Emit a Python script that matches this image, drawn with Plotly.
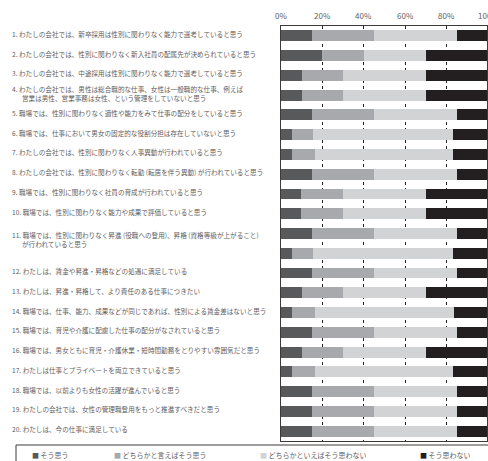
import plotly.graph_objects as go

# ---------------- data ----------------
series_names = ["そう思う", "どちらかと言えばそう思う", "どちらかといえばそう思わない", "そう思わない"]
series_colors = ["#58595b", "#a7a9ac", "#d1d3d4", "#231f20"]

# 21 bars are drawn in the reference (bar rows, top to bottom), values in %
agree =          [15, 20, 10, 10, 15, 5.5, 5.5, 15, 9.5, 9.5, 15, 5.5, 15, 10, 5.5, 15, 10, 5.5, 15, 15, 15]
somewhat_agree = [30, 20, 20, 20, 30, 10, 11, 30, 20.5, 20.5, 30, 10, 30, 20, 11, 30, 20, 11, 30, 30, 30]
somewhat_dis =   [40, 30, 40, 40, 40, 67.5, 66.5, 40, 40, 40, 40, 67.5, 40, 40, 67, 40, 40, 66.5, 40, 40, 40]
disagree =       [15, 30, 30, 30, 15, 17, 17, 15, 30, 30, 15, 17, 15, 30, 16.5, 15, 30, 17, 15, 15, 15]

questions = [
    "1. わたしの会社では、新卒採用は性別に関わりなく能力で選考していると思う",
    "2. わたしの会社では、性別に関わりなく新入社員の配属先が決められていると思う",
    "3. わたしの会社では、中途採用は性別に関わりなく能力で選考していると思う",
    "4. わたしの会社では、男性は総合職的な仕事、女性は一般職的な仕事、例えば\n営業は男性、営業事務は女性、という管理をしていないと思う",
    "5. 職場では、性別に関わりなく適性や能力をみて仕事の配分をしていると思う",
    "6. 職場では、仕事において男女の固定的な役割分担は存在していないと思う",
    "7. わたしの会社では、性別に関わりなく人事異動が行われていると思う",
    "8. わたしの会社では、性別に関わりなく転勤 (転居を伴う異動) が行われていると思う",
    "9. 職場では、性別に関わりなく社員の育成が行われていると思う",
    "10. 職場では、性別に関わりなく能力や成果で評価していると思う",
    "11. 職場では、性別に関わりなく昇進 (役職への登用)、昇格 (資格等級が上がること)\nが行われていると思う",
    "12. わたしは、賃金や昇進・昇格などの処遇に満足している",
    "13. わたしは、昇進・昇格して、より責任のある仕事につきたい",
    "14. 職場では、仕事、能力、成果などが同じであれば、性別による賃金差はないと思う",
    "15. 職場では、育児や介護に配慮した仕事の配分がなされていると思う",
    "16. 職場では、男女ともに育児・介護休業・短時間勤務をとりやすい雰囲気だと思う",
    "17. わたしは仕事とプライベートを両立できていると思う",
    "18. 職場では、以前よりも女性の活躍が進んでいると思う",
    "19. わたしの会社では、女性の管理職登用をもっと推進すべきだと思う",
    "20. わたしは、今の仕事に満足している",
]

tick_values = [0, 20, 40, 60, 80, 100]
tick_labels = ["0%", "20%", "40%", "60%", "80%", "100%"]

# ---------------- layout helpers ----------------
W, H = 488, 461
ML, MR, MT, MB = 281, 1, 26, 20
PW, PH = W - ML - MR, H - MT - MB
XMAX = 99.3

def px_x(px):
    return (px - ML) / PW

def px_y(py):
    return (H - MB - py) / PH

# vertical position (in bar-row units) of each question label
label_pos = [0, 1, 2, 3, 4, 5, 6, 7, 8, 9, 10.4, 12, 13, 14, 15, 16, 17, 18, 19, 20]
LINE = 0.47
TEXT_COLOR = "#5f5d5d"
FONT = "Noto Sans CJK JP"

rows = list(range(len(agree)))
series = [agree, somewhat_agree, somewhat_dis, disagree]

fig = go.Figure()
for name, vals, col in zip(series_names, series, series_colors):
    fig.add_trace(go.Bar(
        x=vals, y=rows, orientation="h", name=name,
        marker=dict(color=col, line=dict(width=0)),
        width=0.55, showlegend=False, hoverinfo="x+name",
    ))

ann = []
for q, yc in zip(questions, label_pos):
    lines = q.split("\n")
    n = len(lines)
    for i, ln in enumerate(lines):
        yy = yc - 0.1 + (i - (n - 1) / 2) * LINE
        ann.append(dict(
            text=ln, xref="paper", yref="y", x=px_x(10 if i == 0 else 20), y=yy,
            xanchor="left", yanchor="middle", showarrow=False,
            font=dict(family=FONT, size=6.6, color=TEXT_COLOR),
        ))

for v, t in zip(tick_values, tick_labels):
    ann.append(dict(
        text=t, xref="paper", yref="paper", x=v / XMAX, y=px_y(15),
        xanchor="center", yanchor="middle", showarrow=False,
        font=dict(family=FONT, size=8, color=TEXT_COLOR),
    ))

legend_x = [30, 112, 258, 418]
for name, col, lx in zip(series_names, series_colors, legend_x):
    ann.append(dict(
        text=f'<span style="color:{col}">■</span> {name}',
        xref="paper", yref="paper", x=px_x(lx), y=px_y(455),
        xanchor="left", yanchor="middle", showarrow=False,
        font=dict(family=FONT, size=7, color=TEXT_COLOR),
    ))

fig.update_layout(
    width=W, height=H,
    margin=dict(l=ML, r=MR, t=MT, b=MB, pad=0),
    paper_bgcolor="white", plot_bgcolor="white",
    barmode="stack", bargap=0,
    annotations=ann,
    shapes=[dict(type="rect", xref="paper", yref="paper",
                 x0=px_x(16), x1=px_x(495), y0=px_y(445), y1=px_y(475),
                 line=dict(color="#3e3a39", width=1), fillcolor="rgba(0,0,0,0)")],
    xaxis=dict(range=[0, XMAX], side="top", showticklabels=False, ticks="",
               tickvals=[20, 40, 60, 80], showgrid=True, gridcolor="#231f20",
               gridwidth=1, griddash="3px,3px", zeroline=False,
               showline=True, mirror=True, linecolor="#3e3a39", linewidth=1),
    yaxis=dict(range=[20.5, -0.5], showticklabels=False, ticks="", showgrid=False,
               zeroline=False, showline=True, mirror=True, linecolor="#3e3a39", linewidth=1),
)

fig.write_html("out.html")
